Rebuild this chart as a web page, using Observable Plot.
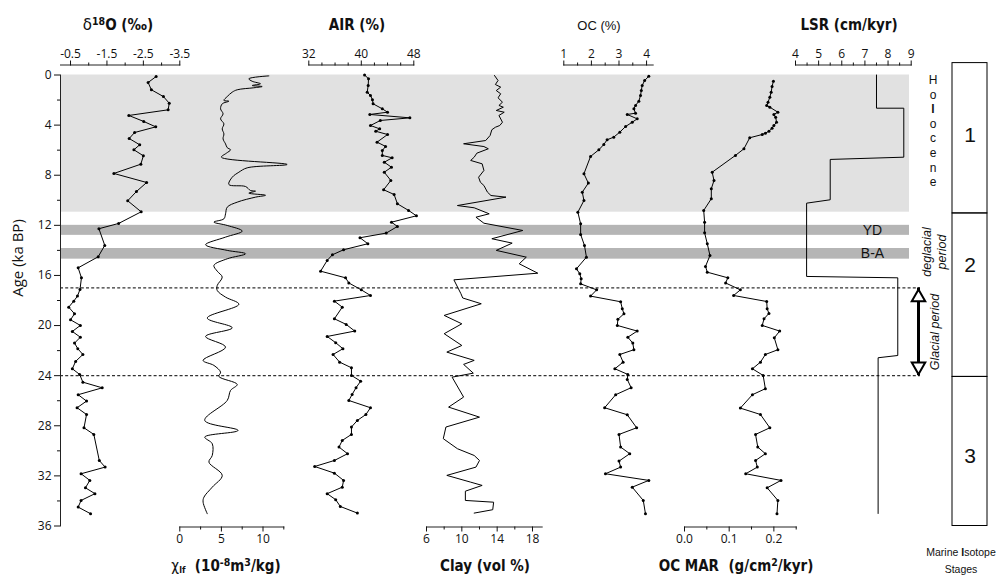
<!DOCTYPE html>
<html><head><meta charset="utf-8">
<script src="https://cdn.jsdelivr.net/npm/d3@7"></script>
<script src="https://cdn.jsdelivr.net/npm/@observablehq/plot@0.6"></script>
<style>
body{margin:0;background:#fff;}
#chart{position:relative;width:1000px;height:578px;overflow:hidden;font-family:"Open Sans",sans-serif;color:#111;}
#chart svg{position:absolute;left:0;top:0;}
.t{position:absolute;white-space:nowrap;transform:translate(-50%,-50%);line-height:1;}
.tb{font-family:"Liberation Sans Narrow","DejaVu Sans Condensed",sans-serif;font-weight:bold;font-size:15px;}
.tr{font-family:"Liberation Sans",Arial,sans-serif;font-size:13px;}
sup{font-size:70%;vertical-align:0.45em;line-height:0;}
sub{font-size:60%;vertical-align:-0.25em;line-height:0;}
</style></head><body><div id="chart"></div>
<script>
// ---- data: [age (ka BP), value] ----
const d18O = [[0.12,-2.85],[0.6,-2.63],[1.18,-2.72],[1.72,-3.05],[2.25,-3.21],[2.78,-3.18],[3.23,-2.10],[3.71,-2.51],[4.14,-2.84],[4.59,-2.26],[5.07,-2.11],[5.57,-2.40],[5.97,-2.24],[6.45,-2.50],[7.12,-2.43],[7.86,-1.69],[8.58,-2.59],[9.30,-2.31],[10.04,-2.07],[10.92,-2.44],[11.85,-1.82],[12.27,-1.28],[13.6,-1.44],[14.51,-1.26],[15.39,-0.71],[16.19,-0.80],[17.12,-0.76],[17.65,-0.69],[18.05,-0.59],[18.53,-0.45],[19.06,-0.61],[19.54,-0.50],[19.99,-0.77],[20.47,-0.55],[20.93,-0.77],[21.4,-0.61],[21.85,-0.70],[22.31,-0.84],[22.86,-0.64],[23.45,-0.55],[23.9,-0.75],[24.52,-0.84],[24.97,-1.37],[25.52,-0.71],[26.03,-0.94],[26.56,-0.68],[27.1,-0.94],[28.16,-0.87],[28.69,-1.14],[30.77,-1.29],[31.3,-1.45],[31.83,-0.79],[32.36,-1.03],[32.95,-0.91],[33.42,-1.17],[33.96,-0.79],[34.49,-0.71],[35.02,-1.05]];
const chiLf = [[0.07,10.7],[0.3,8.3],[0.5,8.7],[0.7,9.7],[0.84,8.7],[0.92,9.9],[1.02,8.9],[1.18,6.9],[1.37,6.3],[1.72,5.7],[2.03,5.3],[2.09,5.9],[2.3,5.1],[2.7,4.9],[3.1,5.2],[3.5,4.9],[3.9,5.3],[4.3,5.1],[4.7,5.3],[5.1,5.2],[5.5,5.5],[5.8,5.7],[5.97,6.1],[6.24,5.6],[6.56,5.0],[7.14,12.9],[7.41,8.1],[7.76,7.1],[8.16,6.3],[8.74,5.9],[8.9,7.9],[9.22,8.5],[9.27,9.1],[9.43,8.3],[9.6,10.3],[9.75,9.1],[10.15,6.9],[10.55,5.7],[11.08,5.5],[11.48,5.3],[11.74,4.1],[12.01,5.7],[12.46,7.5],[12.94,5.5],[13.55,3.1],[14.0,5.7],[14.27,7.9],[14.67,5.7],[15.2,4.1],[15.66,4.5],[16.13,5.1],[16.8,4.5],[17.2,4.5],[17.73,5.5],[18.3,7.1],[19.4,3.3],[20.18,6.3],[20.87,3.1],[21.72,5.5],[22.78,2.8],[23.18,4.1],[23.72,4.9],[24.06,4.7],[24.7,6.9],[25.18,6.1],[25.98,5.7],[27.57,3.0],[28.37,7.0],[28.9,3.0],[29.43,3.9],[30.37,3.9],[30.9,3.5],[31.96,5.1],[32.9,3.9],[33.7,2.9],[34.1,2.8],[35.02,3.3]];
const air = [[0,40.5],[0.3,41.1],[0.84,41.05],[1.37,40.9],[1.64,41.4],[1.98,41.7],[2.3,41.8],[2.7,43.2],[2.97,44.0],[3.15,41.3],[3.42,47.4],[3.63,42.9],[4.03,41.4],[4.3,42.8],[4.49,42.2],[4.75,44.0],[5.36,42.4],[5.7,43.7],[6.03,43.2],[6.42,43.2],[6.61,44.7],[6.96,43.5],[7.36,44.6],[7.76,43.5],[8.42,44.5],[9.16,43.4],[9.54,45.0],[10.28,45.5],[10.81,47.2],[11.24,48.4],[11.75,44.6],[12.09,45.5],[12.62,43.8],[12.99,39.8],[13.47,41.0],[13.95,37.3],[14.35,35.6],[14.8,34.8],[15.66,33.8],[16.19,37.6],[16.6,38.1],[17.15,40.0],[17.6,41.4],[18.05,35.9],[18.53,37.1],[19.46,35.9],[19.91,37.7],[20.44,39.0],[20.87,34.8],[21.37,36.1],[21.85,37.2],[22.31,35.7],[22.92,36.7],[23.37,38.5],[23.98,38.5],[24.44,39.9],[24.96,39.2],[25.5,38.6],[25.98,38.1],[26.56,41.4],[27.1,40.7],[27.57,39.4],[28.1,38.5],[28.69,38.5],[29.17,37.1],[29.7,36.6],[30.23,37.9],[30.77,35.9],[31.25,32.9],[31.78,35.9],[32.36,37.3],[32.9,37.1],[33.42,34.8],[33.9,36.1],[34.44,36.8],[34.97,39.4]];
const clay = [[0.04,13.7],[0.44,14.1],[0.76,13.8],[0.97,14.4],[1.24,13.9],[1.5,14.4],[1.82,14.1],[2.17,14.6],[2.43,14.2],[2.57,14.7],[2.83,13.9],[2.97,14.8],[3.23,14.2],[3.77,14.6],[4.03,14.3],[4.17,13.8],[4.37,13.4],[4.83,13.2],[5.23,12.7],[5.49,10.2],[5.71,12.5],[5.89,13.0],[6.24,11.7],[6.56,11.4],[6.82,11.0],[7.09,12.3],[7.62,12.5],[8.16,11.9],[8.56,12.1],[8.82,12.5],[9.35,12.9],[9.62,13.3],[9.75,15.0],[10.42,9.5],[10.6,11.4],[11.08,13.1],[11.35,11.6],[11.83,12.5],[12.41,16.9],[13.07,13.4],[13.42,15.7],[14.0,13.9],[14.54,17.3],[15.07,16.5],[15.82,18.6],[16.35,9.1],[17.46,9.9],[17.8,10.1],[18.26,12.2],[19.19,8.0],[19.86,10.0],[20.65,8.0],[21.59,10.0],[22.12,8.3],[22.78,11.4],[23.1,10.2],[23.8,11.3],[24.12,8.9],[25.71,10.2],[26.51,8.5],[27.31,12.0],[28.1,8.2],[29.03,7.9],[29.83,9.5],[30.37,11.4],[30.77,12.0],[31.3,11.6],[31.96,8.3],[32.5,11.0],[32.76,12.3],[33.22,10.4],[33.96,10.4],[34.1,13.6],[34.7,13.5],[34.97,11.4]];
const oc = [[0.1,4.08],[0.44,3.93],[0.84,3.84],[1.24,3.81],[1.64,3.78],[2.09,3.72],[2.43,3.60],[2.7,3.54],[3.05,3.60],[3.15,3.30],[3.5,3.66],[3.77,3.48],[4.11,3.24],[4.56,3.03],[4.96,2.81],[5.17,2.57],[5.55,2.45],[5.97,2.27],[6.5,1.97],[7.88,1.73],[8.63,1.89],[9.35,1.67],[10.02,1.73],[10.95,1.51],[11.88,1.61],[12.73,1.61],[13.61,1.75],[14.54,1.82],[15.47,1.46],[15.87,1.58],[16.27,1.63],[16.67,1.61],[17.15,2.19],[17.65,1.97],[18.1,3.06],[18.66,3.12],[19.06,3.18],[19.5,2.96],[19.99,2.94],[20.44,3.66],[20.93,3.32],[21.4,3.50],[21.93,3.54],[22.31,3.03],[22.92,3.15],[23.45,2.85],[23.9,3.32],[24.3,3.30],[24.96,3.44],[25.52,2.88],[26.56,2.48],[27.12,3.30],[28.16,3.64],[28.69,3.00],[29.7,3.06],[30.23,3.39],[30.82,3.00],[31.3,3.06],[31.83,2.51],[32.36,4.08],[32.9,3.48],[33.96,3.88],[35.02,3.96]];
const ocMar = [[0.5,0.199],[0.92,0.196],[1.37,0.194],[1.77,0.191],[2.17,0.187],[2.43,0.184],[2.57,0.191],[2.97,0.209],[3.15,0.200],[3.37,0.204],[3.77,0.206],[4.03,0.200],[4.25,0.196],[4.49,0.189],[4.64,0.181],[4.75,0.174],[5.01,0.146],[5.89,0.133],[6.42,0.114],[7.76,0.062],[8.42,0.066],[9.08,0.060],[9.88,0.060],[10.81,0.043],[11.75,0.045],[12.59,0.045],[13.47,0.051],[14.41,0.057],[15.28,0.047],[15.74,0.051],[16.19,0.097],[16.6,0.092],[17.15,0.125],[17.6,0.110],[18.08,0.184],[18.66,0.185],[19.03,0.189],[19.46,0.178],[19.99,0.174],[20.44,0.213],[20.98,0.201],[21.93,0.209],[22.31,0.181],[22.92,0.170],[23.45,0.152],[23.98,0.176],[25.04,0.181],[25.52,0.152],[26.59,0.125],[27.1,0.170],[28.16,0.191],[28.69,0.159],[29.7,0.164],[30.23,0.181],[30.77,0.159],[31.3,0.163],[31.83,0.137],[32.36,0.216],[32.95,0.185],[33.96,0.209],[35.02,0.207]];
const lsr = [[0,7.5],[2.65,7.5],[2.65,8.68],[6.56,8.68],[6.74,5.5],[9.96,5.5],[10.23,4.48],[16.08,4.48],[16.19,8.42],[22.39,8.42],[22.57,7.57],[35,7.57]];

// ---- periods, boundaries, stages ----
const holocene = [{from: 0, to: 10.95}];
const events = [{name: "YD", from: 12.0, to: 12.8}, {name: "B-A", from: 13.85, to: 14.7}];
const boundaries = [17, 24];
const glacialArrow = [{from: 17, to: 24}];
const stages = [{label: "1", from: -0.95, to: 11.05, labelAt: 4.85}, {label: "2", from: 11.05, to: 24.1, labelAt: 15.2}, {label: "3", from: 24.1, to: 36, labelAt: 30.4}];
const ageMajor = d3.range(0, 37, 4);
const ageMinor = d3.range(2, 37, 4);

const chart = document.getElementById("chart");
const W = 1000, H = 578;
const yScale = () => ({domain: [0, 36], range: [74.5, 525.5], axis: null});
const baseStyle = {background: "transparent", fontFamily: "'Open Sans', sans-serif", fontSize: "12px", overflow: "visible", color: "#111"};
function add(opts) {
  const svg = Plot.plot(Object.assign({width: W, height: H, style: baseStyle}, opts));
  svg.style.position = "absolute"; svg.style.left = "0"; svg.style.top = "0";
  chart.appendChild(svg);
  return svg;
}

// background layer
add({
  marginLeft: 60, marginRight: 91, marginTop: 74.5, marginBottom: 52.5,
  y: {domain: [0, 36], range: [74.5, 525.5]},
  marks: [
    Plot.rect(holocene, {y1: "from", y2: "to", fill: "#e1e1e1"}),
    Plot.rect(events, {y1: "from", y2: "to", fill: "#b5b5b5"}),
    Plot.ruleY(boundaries, {stroke: "#333", strokeWidth: 1.2, strokeDasharray: "3,2.2", insetRight: -11}),
    Plot.text(events, {y: d => (d.from + d.to) / 2, text: "name", frameAnchor: "right", dx: -37, textAnchor: "middle", fontSize: 14, fontFamily: "'Liberation Sans Narrow','Liberation Sans',sans-serif"}),
    Plot.frame({anchor: "left", stroke: "#222"}),
    Plot.axisY(ageMajor, {anchor: "left", tickSize: 6, tickPadding: 3, label: null, fontSize: 12}),
    Plot.axisY(ageMinor, {anchor: "left", tickSize: 3, tickFormat: () => "", label: null})
  ]
});

const hyph = f => d => f(d).replace("\u2212", "-");
function panel({data, left, right, domain, top, major, minor, fmt, dots, curve = "linear"}) {
  const marks = [
    Plot.frame({anchor: top ? "top" : "bottom", stroke: "#222"}),
    Plot.axisX(major, {anchor: top ? "top" : "bottom", tickSize: 5, tickPadding: 2, tickFormat: fmt, label: null, fontSize: 12}),
    Plot.axisX(minor, {anchor: top ? "top" : "bottom", tickSize: 3, tickFormat: () => "", label: null}),
    Plot.line(data, {x: d => d[1], y: d => d[0], stroke: "#000", strokeWidth: 1, curve})
  ];
  if (dots) marks.push(Plot.dot(data, {x: d => d[1], y: d => d[0], r: 1.5, fill: "#000"}));
  add({
    marginLeft: left, marginRight: W - right,
    marginTop: top ? 64.5 : 74.5, marginBottom: top ? 52.5 : 51.5,
    x: {domain},
    y: yScale(),
    marks
  });
}
const f1 = hyph(d3.format(".1f"));
const f0 = hyph(d3.format("d"));
panel({data: d18O, left: 60, right: 179.3, domain: [-0.225, -3.5], top: true, major: [-0.5, -1.5, -2.5, -3.5], minor: [-1, -2, -3], fmt: f1, dots: true});
panel({data: chiLf, left: 179.3, right: 283.3, domain: [0, 12.5], top: false, major: [0, 5, 10], minor: [2.5, 7.5, 12.5], fmt: f0, dots: false, curve: "catmull-rom"});
panel({data: air, left: 308.3, right: 413.3, domain: [32, 48], top: true, major: [32, 40, 48], minor: [34, 36, 38, 42, 44, 46], fmt: f0, dots: true});
panel({data: clay, left: 426, right: 541.7, domain: [6, 19.1], top: false, major: [6, 10, 14, 18], minor: [8, 12, 16], fmt: f0, dots: false});
panel({data: oc, left: 563.3, right: 652.7, domain: [1, 4.24], top: true, major: [1, 2, 3, 4], minor: [1.5, 2.5, 3.5], fmt: f0, dots: true});
panel({data: ocMar, left: 684, right: 795.7, domain: [0, 0.25], top: false, major: [0, 0.1, 0.2], minor: [0.05, 0.15, 0.25], fmt: f1, dots: true});
panel({data: lsr, left: 795, right: 910.7, domain: [4, 9], top: true, major: [4, 5, 6, 7, 8, 9], minor: [4.5, 5.5, 6.5, 7.5, 8.5], fmt: f0, dots: false});

// glacial arrow
add({
  marginLeft: 900, marginRight: 64, marginTop: 74.5, marginBottom: 52.5,
  x: {domain: [0, 1], axis: null},
  y: yScale(),
  marks: [
    Plot.ruleX(glacialArrow, {x: 0.5, y1: "from", y2: "to", stroke: "#000", strokeWidth: 3}),
    Plot.dot(glacialArrow, {x: 0.5, y: d => d.from + 0.74, symbol: "triangle", r: 5, fill: "#fff", stroke: "#000", strokeWidth: 2}),
    Plot.dot(glacialArrow, {x: 0.5, y: d => d.to - 0.74, symbol: "triangle", rotate: 180, r: 5, fill: "#fff", stroke: "#000", strokeWidth: 2})
  ]
});

// marine isotope stage column
add({
  marginLeft: 952, marginRight: 13, marginTop: 74.5, marginBottom: 52.5,
  y: yScale(),
  marks: [
    Plot.rect(stages, {y1: "from", y2: "to", fill: "none", stroke: "#000", strokeWidth: 1}),
    Plot.text(stages, {y: "labelAt", text: "label", fontSize: 21, fontFamily: "'Liberation Sans Narrow','Liberation Sans',sans-serif"})
  ]
});

// titles and notes
function label(html, x, y, cls, extra = "") {
  const d = document.createElement("div");
  d.className = "t " + cls;
  d.style.left = x + "px"; d.style.top = y + "px";
  if (extra) d.style.cssText += extra;
  d.innerHTML = html;
  chart.appendChild(d);
}
label('<span style="font-weight:normal;font-family:\'DejaVu Sans\'">δ</span><sup>18</sup>O (‰)', 118, 25, "tb");
label("AIR (%)", 357, 25, "tb");
label("OC (%)", 599, 25, "tr");
label("LSR (cm/kyr)", 849, 25, "tb");
label('<span style="font-weight:normal">χ</span><sub>lf</sub>&nbsp; (10<sup>-8</sup>m<sup>3</sup>/kg)', 226, 566, "tb");
label("Clay (vol %)", 485, 566, "tb");
label("OC MAR&nbsp; (g/cm<sup>2</sup>/kyr)", 736, 566, "tb");
label("Age (ka BP)", 17, 258, "tr", "font-family:'Open Sans',sans-serif;font-size:15px;transform:translate(-50%,-50%) rotate(-90deg);");
label('Marine <b>I</b>sotope<br>Stages', 961, 561, "tr", "font-size:10.5px;text-align:center;line-height:17px;");
label('H<br>o<br><b>l</b><br>o<br>c<br>e<br>n<br>e', 933, 131, "tr", "font-size:12px;text-align:center;line-height:14.6px;");
label('deglacial<br>period', 935, 252, "tr", "font-size:12.5px;font-style:italic;text-align:center;line-height:15px;transform:translate(-50%,-50%) rotate(-90deg);");
label('Glacial period', 935, 332, "tr", "font-size:12.5px;font-style:italic;transform:translate(-50%,-50%) rotate(-90deg);");
</script></body></html>
